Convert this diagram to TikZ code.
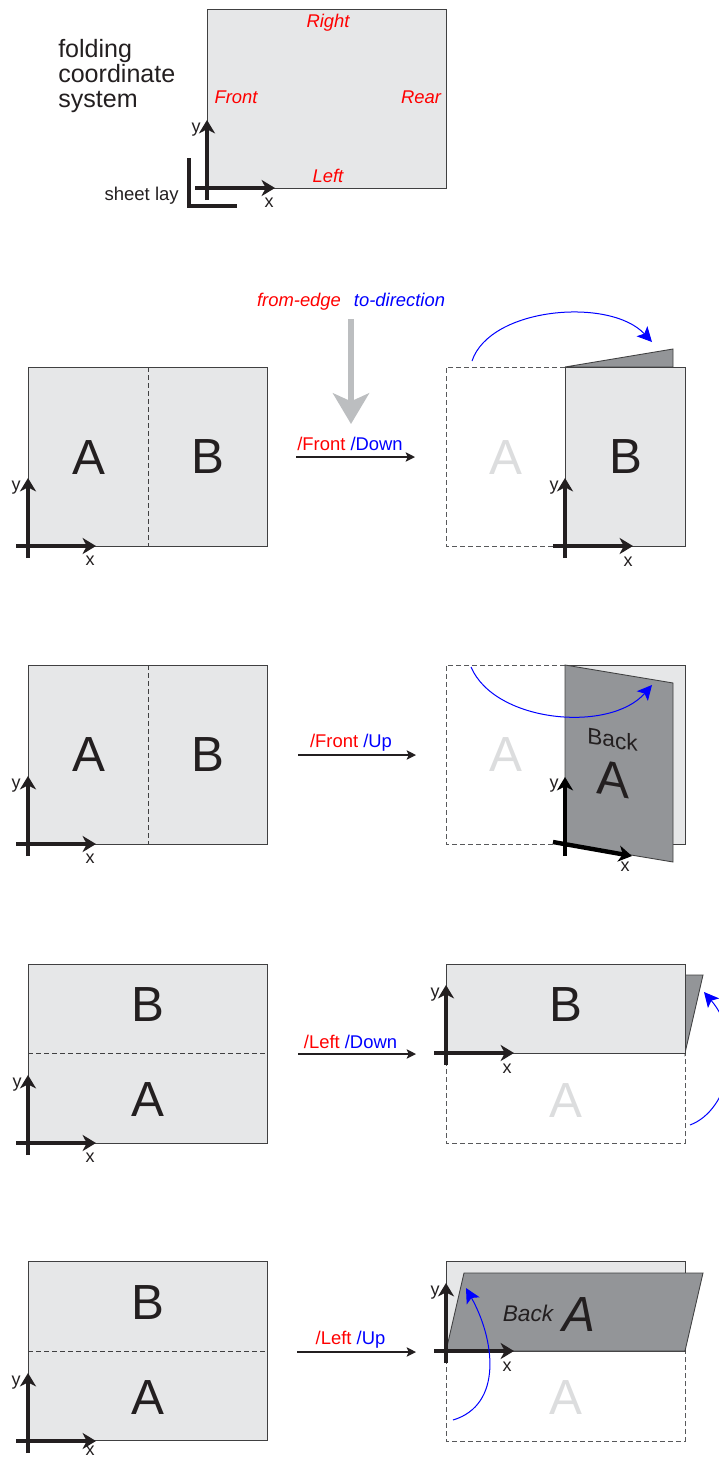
\documentclass[tikz,border=0pt]{standalone}
\usepackage{fontspec}
\setmainfont{Liberation Sans}
\usetikzlibrary{arrows.meta}
\definecolor{sheetc}{HTML}{E6E7E8}
\definecolor{flapc}{HTML}{939598}
\definecolor{inkc}{HTML}{231F20}
\definecolor{ghostc}{HTML}{DCDDDE}
\definecolor{edgec}{HTML}{404041}
\definecolor{dashc}{HTML}{58595B}
\definecolor{bigc}{HTML}{BCBEC0}
\tikzset{
  sheetbox/.style={draw=edgec,fill=sheetc,line width=.65pt},
  flapbox/.style={draw=edgec,fill=flapc,line width=.65pt},
  ghostbox/.style={draw=dashc,line width=.65pt,dash pattern=on 3.6pt off 2.4pt},
  foldline/.style={draw=edgec,line width=.7pt,dash pattern=on 3.6pt off 2.4pt},
  axisline/.style={draw=inkc,line width=3.3pt,-{Stealth[length=10pt,width=12pt,inset=3pt]}},
  layline/.style={draw=inkc,line width=2.7pt,line cap=butt},
  foldarrow/.style={draw=inkc,line width=1.2pt,-{Stealth[length=7pt,width=7pt,inset=1.5pt]}},
  bluearc/.style={draw=blue,line width=.75pt,-{Stealth[length=11pt,width=11pt,inset=2.5pt]}},
  bigletter/.style={text=inkc,font=\fontsize{37}{40}\selectfont,inner sep=0pt},
  ghostletter/.style={text=ghostc,font=\fontsize{37}{40}\selectfont,inner sep=0pt},
  axlabel/.style={text=inkc,font=\fontsize{13.5}{15}\selectfont,inner sep=0pt},
  edgelabel/.style={text=red,font=\fontsize{13.8}{16}\selectfont\itshape,inner sep=0pt},
  foldlabel/.style={font=\fontsize{13.8}{16}\selectfont,inner sep=0pt},
  backlabel/.style={text=inkc,font=\fontsize{17}{20}\selectfont,inner sep=0pt},
}
% #1 prefix, #2 origin x, #3 origin y, #4 y-label x,y  #5 x-label x,y
\newcommand{\AxesAt}[5]{%
  \coordinate (#1vs) at (#2,#3+12);
  \coordinate (#1ve) at (#2,#3-68);
  \coordinate (#1hs) at (#2-12,#3);
  \coordinate (#1he) at (#2+68,#3);
  \draw[axisline] (#1vs) -- (#1ve);
  \draw[axisline] (#1hs) -- (#1he);
  \node[axlabel,yshift=-2.2pt] (#1yl) at (#4) {y};
  \node[axlabel,yshift=-1pt] (#1xl) at (#5) {x};
}
\begin{document}
\begin{tikzpicture}[x=.75pt,y=-.75pt]
\useasboundingbox (0,0) rectangle (718,1457);
% ---------- coordinate system
\draw[sheetbox] (207,9) rectangle (446,188);
\node[edgelabel] (lright) at (328,23) {Right};
\node[edgelabel] (lfront) at (236,97) {Front};
\node[edgelabel] (lrear) at (421,97) {Rear};
\node[edgelabel] (lleft) at (328,176) {Left};
\node[text=inkc,anchor=west,align=left,inner sep=0pt,font=\fontsize{18.8}{18.75}\selectfont] (title) at (58,76) {folding\\coordinate\\system};
\node[text=inkc,anchor=east,inner sep=0pt,font=\fontsize{13.9}{16}\selectfont] (lay) at (179,196) {sheet lay};
\coordinate (laya) at (189,158);
\coordinate (layb) at (189,206);
\coordinate (layc) at (237,206);
\draw[layline] (laya) -- (layb) -- (layc);
\AxesAt{t}{207}{188}{196,127}{269,201}
% ---------- legend
\node[edgelabel,anchor=base] (from) at (299,306) {from-edge};
\node[edgelabel,text=blue,anchor=base] (to) at (399.5,306) {to-direction};
\coordinate (biga) at (351,319);
\coordinate (bigb) at (351,424);
\draw[draw=bigc,line width=4.6pt,-{Stealth[length=23pt,width=27pt,inset=6pt]}] (biga) -- (bigb);
% ---------- panel 1
\draw[sheetbox] (28,367) rectangle (267,546);
\coordinate (f1a) at (148,367); \coordinate (f1b) at (148,546);
\draw[foldline] (f1a) -- (f1b);
\node[bigletter] (a1) at (89,458) {A};
\node[bigletter] (b1) at (208,457) {B};
\AxesAt{a}{28}{546}{16,485}{90,559}
\coordinate (m1a) at (296,457); \coordinate (m1b) at (415,457);
\draw[foldarrow] (m1a) -- (m1b);
\node[foldlabel] (m1l) at (350,443.5) {\textcolor{red}{/Front} \textcolor{blue}{/Down}};
\draw[ghostbox] (565,367) -- (446,367) -- (446,546) -- (565,546);
\node[ghostletter] (ga1) at (506,458) {A};
\draw[flapbox] (565,367) -- (673,349) -- (673,367) -- cycle;
\draw[sheetbox] (565,367) rectangle (685,546);
\node[bigletter] (b1r) at (626,457) {B};
\AxesAt{b}{565}{546}{554,485}{628,560}
\coordinate (c1a) at (472,361); \coordinate (c1b) at (652,342);
\draw[bluearc] (c1a) .. controls (490,307) and (610,297) .. (c1b);
% ---------- panel 2
\draw[sheetbox] (28,665) rectangle (267,844);
\coordinate (f2a) at (148,665); \coordinate (f2b) at (148,844);
\draw[foldline] (f2a) -- (f2b);
\node[bigletter] (a2) at (89,755) {A};
\node[bigletter] (b2) at (208,755) {B};
\AxesAt{c}{28}{844}{16,783}{90,857}
\coordinate (m2a) at (298,755); \coordinate (m2b) at (416,755);
\draw[foldarrow] (m2a) -- (m2b);
\node[foldlabel] (m2l) at (351,742.5) {\textcolor{red}{/Front} \textcolor{blue}{/Up}};
\draw[ghostbox] (565,665) -- (446,665) -- (446,844) -- (565,844);
\node[ghostletter] (ga2) at (506,755) {A};
\draw[sheetbox] (565,665) rectangle (685,844);
\draw[flapbox] (565,665) -- (673,683) -- (673,862) -- (565,844) -- cycle;
\begin{scope}[shift={(612.5,739.5)},yslant=-.167]
  \node[backlabel,transform shape] (back2) at (0,0) {Back};
\end{scope}
\begin{scope}[shift={(612.5,779)},yslant=-.167]
  \node[bigletter,transform shape] (a2r) at (0,0) {A};
\end{scope}
\coordinate (dvs) at (565,856); \coordinate (dve) at (565,777);
\coordinate (dhs) at (553,842); \coordinate (dhe) at (632,856);
\draw[axisline,draw=black] (dvs) -- (dve);
\draw[axisline,draw=black] (dhs) -- (dhe);
\node[axlabel,yshift=-2.2pt] (dyl) at (554,783) {y};
\node[axlabel,yshift=-1pt] (dxl) at (625,865) {x};
\coordinate (c2a) at (471,667); \coordinate (c2b) at (652,685);
\draw[bluearc] (c2a) .. controls (495,723) and (610,733) .. (c2b);
% ---------- panel 3
\draw[sheetbox] (28,964) rectangle (267,1143);
\coordinate (f3a) at (28,1053); \coordinate (f3b) at (267,1053);
\draw[foldline] (f3a) -- (f3b);
\node[bigletter] (b3) at (148,1005) {B};
\node[bigletter] (a3) at (148,1100) {A};
\AxesAt{e}{28}{1143}{17,1082}{90,1156}
\coordinate (m3a) at (298,1054); \coordinate (m3b) at (416,1054);
\draw[foldarrow] (m3a) -- (m3b);
\node[foldlabel] (m3l) at (350.5,1041.5) {\textcolor{red}{/Left} \textcolor{blue}{/Down}};
\draw[ghostbox] (446,1053) -- (446,1143) -- (685,1143) -- (685,1053);
\node[ghostletter] (ga3) at (566,1101) {A};
\draw[flapbox] (685,975) -- (703,975) -- (685,1053) -- cycle;
\draw[sheetbox] (446,964) rectangle (685,1053);
\node[bigletter] (b3r) at (566,1005) {B};
\AxesAt{g}{446}{1053}{435,992}{507,1067}
\coordinate (c3a) at (690,1125); \coordinate (c3b) at (704,992);
\draw[bluearc] (c3a) .. controls (730,1110) and (745,1040) .. (c3b);
% ---------- panel 4
\draw[sheetbox] (28,1261) rectangle (267,1440);
\coordinate (f4a) at (28,1351); \coordinate (f4b) at (267,1351);
\draw[foldline] (f4a) -- (f4b);
\node[bigletter] (b4) at (148,1303) {B};
\node[bigletter] (a4) at (148,1398) {A};
\AxesAt{h}{28}{1441}{16,1380}{90,1449.5}
\coordinate (m4a) at (297,1352); \coordinate (m4b) at (416,1352);
\draw[foldarrow] (m4a) -- (m4b);
\node[foldlabel] (m4l) at (350.5,1339.5) {\textcolor{red}{/Left} \textcolor{blue}{/Up}};
\draw[ghostbox] (446,1351) -- (446,1441) -- (685,1441) -- (685,1351);
\node[ghostletter] (ga4) at (566,1398) {A};
\draw[sheetbox] (446,1261) rectangle (685,1351);
\draw[flapbox] (446,1351) -- (464,1273) -- (703,1273) -- (685,1351) -- cycle;
\node[backlabel,font=\fontsize{17}{20}\selectfont\itshape] (back4) at (528,1313) {Back};
\node[bigletter,font=\fontsize{37}{40}\selectfont\itshape] (a4r) at (579,1315) {A};
\AxesAt{j}{446}{1351}{435,1290}{507,1365}
\coordinate (c4a) at (453,1420); \coordinate (c4b) at (466,1288);
\draw[bluearc] (c4a) .. controls (503,1405) and (495,1340) .. (c4b);
\end{tikzpicture}
\end{document}
